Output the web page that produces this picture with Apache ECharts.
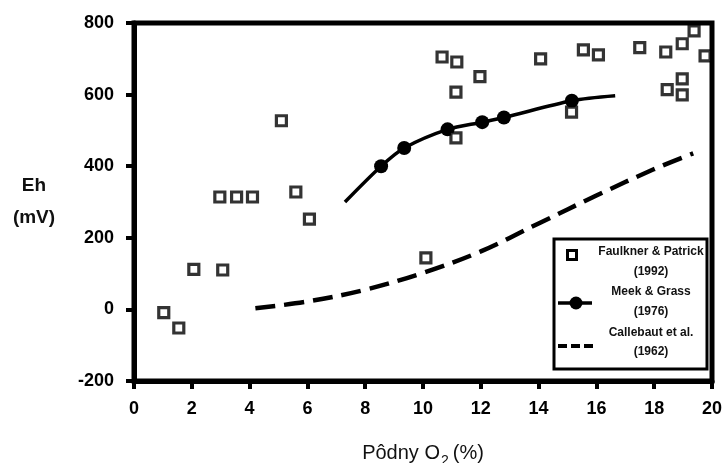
<!DOCTYPE html>
<html>
<head>
<meta charset="utf-8">
<script src="https://cdn.jsdelivr.net/npm/echarts@6/dist/echarts.min.js"></script>
<style>
  html, body { margin: 0; padding: 0; background: #fff; }
  #chart { width: 728px; height: 463px; }
</style>
</head>
<body>
<div id="chart"></div>
<script>
// Eh vs. soil O2 — three literature sources
const xTicks = [0, 2, 4, 6, 8, 10, 12, 14, 16, 18, 20];
const yTicks = [-200, 0, 200, 400, 600, 800];

// Faulkner & Patrick (1992): individual measurements [O2 %, Eh mV]
const faulknerPatrick = [
  [1.03, -9], [1.55, -52], [2.07, 112], [3.07, 110],
  [2.97, 314], [3.55, 314], [4.1, 314], [5.1, 527],
  [5.6, 328], [6.07, 252], [10.1, 144], [10.66, 705],
  [11.17, 691], [11.14, 607], [11.14, 479], [11.97, 650],
  [14.07, 700], [15.14, 551], [15.55, 725], [16.07, 711],
  [17.5, 731], [18.4, 719], [18.45, 614], [18.97, 742],
  [18.97, 644], [18.97, 599], [19.38, 778], [19.76, 708]
];

// Meek & Grass (1976): fitted curve; inner points are the measured means
const meekCurveStart = [7.3, 300];
const meekGrass = [
  [8.55, 400], [9.35, 451], [10.85, 503], [12.05, 523], [12.8, 536], [15.15, 583]
];
const meekCurveEnd = [16.65, 597];

// Callebaut et al. (1962): relationship curve
const callebaut = [
  [4.2, 3], [6, 22], [8, 55], [10, 102], [12, 162],
  [14, 240], [16, 318], [18, 392], [19.35, 436]
];

const legendItems = [
  { name: 'Faulkner & Patrick', year: '(1992)' },
  { name: 'Meek & Grass', year: '(1976)' },
  { name: 'Callebaut et al.', year: '(1962)' }
];

const FONT = '"Liberation Sans", Arial, Helvetica, sans-serif';

const meekLine = [
  { value: meekCurveStart, symbol: 'none' },
  ...meekGrass.map(p => ({ value: p })),
  { value: meekCurveEnd, symbol: 'none' }
];

const chart = echarts.init(document.getElementById('chart'), null, { renderer: 'canvas' });

// Legend panel drawn as a boxed key in the lower right
const LX = 554, LY = 239, LW = 153, LH = 130;
const textCx = 651;
const legendGraphics = [
  { type: 'rect', shape: { x: LX, y: LY, width: LW, height: LH },
    style: { fill: '#fff', stroke: '#000', lineWidth: 3 }, z: 100 },
  // square marker
  { type: 'rect', shape: { x: 567.5, y: 250.5, width: 9, height: 9 },
    style: { fill: '#fff', stroke: '#000', lineWidth: 3 }, z: 101 },
  // line + circle marker
  { type: 'line', shape: { x1: 558, y1: 303, x2: 592, y2: 303 },
    style: { stroke: '#000', lineWidth: 3.5 }, z: 101 },
  { type: 'circle', shape: { cx: 576, cy: 303, r: 6.5 },
    style: { fill: '#000' }, z: 102 },
  // dashed marker
  { type: 'line', shape: { x1: 558, y1: 346, x2: 595, y2: 346 },
    style: { stroke: '#000', lineWidth: 4, lineDash: [9, 4] }, z: 101 }
];
const textRows = [[252, 272], [292, 312], [333, 352]];
legendItems.forEach((it, i) => {
  legendGraphics.push({
    type: 'text', z: 101,
    style: { text: it.name, x: textCx, y: textRows[i][0], align: 'center', verticalAlign: 'middle',
             font: 'bold 12px ' + FONT, fill: '#111' }
  });
  legendGraphics.push({
    type: 'text', z: 101,
    style: { text: it.year, x: textCx, y: textRows[i][1], align: 'center', verticalAlign: 'middle',
             font: 'bold 12px ' + FONT, fill: '#111' }
  });
});

chart.setOption({
  animation: false,
  backgroundColor: '#fff',
  grid: {
    left: 134, right: 16, top: 23, bottom: 82,
    outerBoundsMode: 'none', containLabel: false,
    show: true, borderColor: '#000', borderWidth: 5, backgroundColor: 'transparent'
  },
  xAxis: {
    type: 'value',
    min: xTicks[0], max: xTicks[xTicks.length - 1], interval: 2,
    name: '{a|Pôdny O}{b|2}{a|\u2009(%)}',
    nameLocation: 'middle', nameGap: 58,
    nameTextStyle: {
      rich: {
        a: { fontFamily: FONT, fontSize: 20, color: '#111', lineHeight: 24, verticalAlign: 'bottom' },
        b: { fontFamily: FONT, fontSize: 14, color: '#111', lineHeight: 24, verticalAlign: 'bottom', padding: [0, 0, -5, 1] }
      }
    },
    axisLine: { onZero: false, lineStyle: { color: '#000', width: 5 } },
    axisTick: { length: 8, lineStyle: { color: '#000', width: 4 } },
    axisLabel: { margin: 19, fontFamily: FONT, fontWeight: 'bold', fontSize: 18, color: '#000' },
    splitLine: { show: false }
  },
  yAxis: {
    type: 'value',
    min: yTicks[0], max: yTicks[yTicks.length - 1], interval: 200,
    name: 'Eh\n(mV)',
    nameLocation: 'middle', nameRotate: 0, nameGap: 100,
    nameTextStyle: { fontFamily: FONT, fontWeight: 'bold', fontSize: 19, color: '#111', lineHeight: 32, align: 'center' },
    axisLine: { onZero: false, lineStyle: { color: '#000', width: 5 } },
    axisTick: { length: 8, lineStyle: { color: '#000', width: 4 } },
    axisLabel: { margin: 20, fontFamily: FONT, fontWeight: 'bold', fontSize: 18, color: '#000' },
    splitLine: { show: false }
  },
  series: [
    {
      name: 'Callebaut et al. (1962)',
      type: 'line', data: callebaut, smooth: 0.35, symbol: 'none',
      lineStyle: { color: '#000', width: 4.5, type: [20, 9] },
      z: 2
    },
    {
      name: 'Meek & Grass (1976)',
      type: 'line', data: meekLine, smooth: 0.3,
      symbol: 'circle', symbolSize: 14, showAllSymbol: true,
      itemStyle: { color: '#000' },
      lineStyle: { color: '#000', width: 3.5 },
      z: 3
    },
    {
      name: 'Faulkner & Patrick (1992)',
      type: 'scatter', data: faulknerPatrick,
      symbol: 'rect', symbolSize: 10,
      itemStyle: { color: '#fff', borderColor: '#000', borderWidth: 3.2 },
      z: 4
    }
  ],
  graphic: legendGraphics
});
</script>
</body>
</html>
